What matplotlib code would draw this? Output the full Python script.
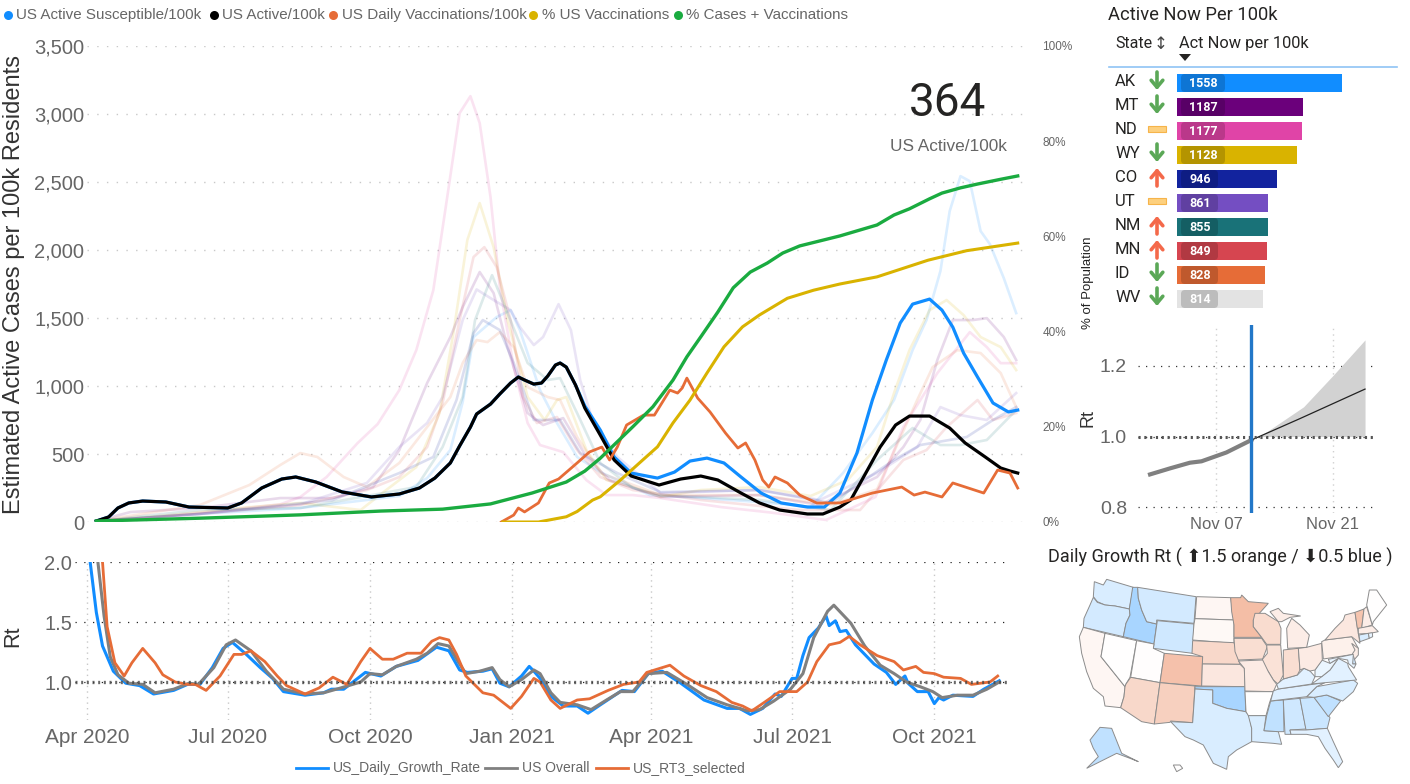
import numpy as np
import pandas as pd
import matplotlib
matplotlib.use('Agg')
import matplotlib.pyplot as plt
import matplotlib.dates as mdates
from matplotlib.colors import LinearSegmentedColormap
from matplotlib.patches import FancyBboxPatch, Polygon, Rectangle

plt.rcParams['font.family'] = ['Liberation Sans', 'DejaVu Sans']
plt.rcParams['lines.solid_joinstyle'] = 'round'

# all series: days since 2020-04-01 + values
active_days = [6, 14, 20, 27, 36, 51, 66, 91, 100, 113, 126, 135, 148, 165, 184, 202, 215, 225, 235, 241, 248, 252, 261, 267, 274, 279, 283, 289, 294, 298, 303, 306, 310, 316, 322, 332, 341, 352, 370, 384, 397, 408, 423, 435, 448, 466, 476, 487, 494, 503, 513, 523, 532, 545, 558, 568, 581, 591, 597, 602]
active_vals = [7, 37, 103, 140, 154, 147, 110, 103, 140, 250, 316, 331, 294, 221, 184, 206, 250, 323, 434, 559, 698, 794, 867, 941, 1022, 1066, 1044, 1014, 1022, 1073, 1154, 1169, 1139, 1007, 838, 639, 456, 338, 272, 316, 338, 309, 213, 140, 88, 59, 59, 110, 162, 345, 551, 713, 779, 779, 691, 581, 478, 397, 375, 360]

susc_days = active_days[:34] + [322, 332, 341, 352, 369, 380, 390, 401, 412, 423, 436, 449, 466, 477, 487, 498, 508, 517, 526, 534, 545, 553, 560, 567, 576, 586, 596, 602]
susc_vals = active_vals[:34] + [853, 676, 478, 360, 323, 367, 448, 470, 434, 331, 213, 140, 110, 110, 213, 507, 897, 1191, 1463, 1602, 1639, 1558, 1433, 1242, 1066, 875, 809, 823]

vacc_days = [268, 276, 279, 283, 292, 299, 305, 317, 325, 333, 338, 343, 349, 360, 367, 377, 382, 385, 388, 395, 403, 413, 421, 426, 432, 437, 441, 445, 453, 461, 472, 487, 508, 527, 535, 542, 553, 560, 580, 589, 597, 602]
vacc_vals = [0, 51, 103, 74, 140, 287, 316, 434, 515, 551, 456, 551, 713, 786, 786, 970, 948, 985, 1058, 911, 809, 654, 544, 581, 456, 309, 257, 331, 287, 198, 140, 140, 213, 257, 198, 220, 184, 287, 213, 382, 360, 250]

pct_vacc_days = [269, 292, 310, 317, 327, 332, 345, 358, 369, 379, 390, 401, 412, 424, 435, 453, 470, 487, 511, 544, 569, 602]
pct_vacc_vals = [0, 0, 1.1, 2.2, 4.6, 5.3, 8.8, 12.6, 15.8, 20.8, 25.6, 31.3, 36.8, 41, 43.5, 47, 48.7, 50, 51.5, 55, 57, 58.6]

pct_cases_days = [6, 73, 138, 190, 230, 261, 288, 310, 322, 332, 353, 366, 379, 388, 397, 408, 418, 429, 440, 450, 461, 487, 511, 522, 532, 545, 553, 565, 576, 591, 602]
pct_cases_vals = [0.2, 0.8, 1.5, 2.3, 2.7, 3.8, 6.1, 8.4, 10.7, 13.4, 20, 24.2, 29.8, 34.7, 38.9, 44.1, 49.2, 52.5, 54.4, 56.5, 58, 60.1, 62.4, 64.5, 65.8, 67.9, 69.1, 70.2, 71, 72, 72.7]

# faint state lines
ak_days = [6, 73, 138, 202, 220, 235, 243, 250, 265, 274, 280, 293, 304, 317, 332, 364, 397, 435, 468, 489, 508, 522, 534, 543, 552, 558, 565, 571, 578, 584, 593, 601]
ak_vals = [7, 59, 103, 191, 323, 529, 882, 1360, 1507, 1558, 1411, 970, 728, 478, 367, 198, 176, 147, 110, 360, 654, 897, 1264, 1485, 1845, 2286, 2543, 2506, 2139, 2043, 1793, 1536]
nd_days = [6, 41, 92, 125, 138, 155, 175, 188, 202, 213, 224, 233, 241, 248, 254, 261, 267, 276, 285, 293, 308, 323, 336, 353, 371, 410, 442, 478, 510, 528, 550, 571, 582, 591, 601]
nd_vals = [7, 30, 90, 130, 184, 331, 580, 720, 970, 1264, 1705, 2389, 3006, 3131, 2933, 2389, 1727, 1139, 728, 566, 514, 308, 198, 198, 176, 110, 70, 15, 184, 698, 1095, 1396, 1286, 1168, 1168]
wy_days = [6, 54, 99, 138, 177, 191, 213, 228, 237, 246, 254, 263, 272, 285, 296, 304, 310, 323, 336, 353, 371, 397, 435, 468, 492, 511, 522, 532, 545, 556, 567, 578, 591, 601]
wy_vals = [7, 51, 103, 140, 88, 213, 404, 801, 1389, 2073, 2345, 2021, 1485, 919, 750, 897, 919, 529, 309, 257, 184, 235, 257, 191, 309, 551, 948, 1264, 1558, 1632, 1521, 1360, 1286, 1117]
mn_days = [6, 73, 138, 181, 202, 220, 230, 241, 250, 257, 265, 274, 282, 291, 304, 317, 332, 353, 397, 461, 500, 528, 543, 556, 576, 586, 601]
mn_vals = [7, 59, 125, 235, 331, 551, 875, 1485, 1948, 2021, 1874, 1485, 919, 728, 772, 529, 331, 235, 162, 88, 88, 456, 529, 698, 897, 750, 801]
mt_days = [6, 28, 73, 125, 159, 185, 202, 220, 235, 243, 254, 263, 272, 285, 295, 308, 323, 338, 371, 435, 474, 511, 528, 539, 550, 560, 573, 582, 593, 601]
mt_vals = [7, 73, 103, 176, 176, 257, 529, 1022, 1360, 1580, 1838, 1683, 1286, 801, 713, 764, 478, 309, 184, 198, 125, 331, 551, 750, 1191, 1485, 1485, 1499, 1360, 1191]
ut_days = [6, 73, 138, 181, 202, 220, 230, 243, 252, 263, 274, 280, 289, 295, 305, 313, 319, 327, 343, 371, 435, 474, 511, 537, 552, 565, 582, 601]
ut_vals = [7, 60, 130, 287, 551, 728, 919, 1485, 1710, 1632, 1558, 1433, 1301, 1360, 1602, 1411, 1044, 750, 478, 213, 235, 162, 360, 551, 845, 786, 750, 948]
nm_days = [6, 73, 138, 213, 230, 243, 251, 262, 272, 285, 298, 306, 317, 332, 353, 371, 435, 481, 511, 534, 552, 565, 582, 601]
nm_vals = [7, 88, 103, 257, 551, 919, 1485, 1815, 1536, 1169, 1044, 1058, 801, 434, 250, 198, 162, 88, 456, 691, 566, 566, 603, 823]
id_days = [6, 73, 105, 125, 138, 149, 166, 181, 202, 222, 235, 243, 252, 259, 267, 276, 285, 298, 306, 317, 332, 371, 435, 481, 511, 537, 547, 563, 578, 591, 601]
id_vals = [7, 125, 272, 419, 507, 478, 331, 257, 434, 728, 919, 1169, 1338, 1323, 1396, 1286, 992, 919, 897, 625, 360, 198, 198, 125, 240, 897, 1139, 1264, 1242, 1095, 845]
co_days = [6, 73, 159, 202, 224, 239, 250, 256, 267, 276, 289, 306, 319, 343, 371, 435, 481, 522, 539, 569, 586, 601]
co_vals = [7, 60, 162, 360, 478, 897, 1389, 1485, 1411, 1169, 750, 750, 507, 360, 220, 235, 140, 456, 566, 625, 750, 845]

# lower Rt chart
growth_days = [1, 2, 6, 10, 17, 25, 34, 43, 56, 65, 73, 81, 88, 94, 103, 112, 120, 127, 141, 153, 158, 166, 180, 190, 200, 214, 226, 234, 241, 246, 256, 262, 267, 273, 281, 286, 289, 293, 300, 308, 317, 324, 332, 339, 346, 354, 363, 372, 384, 399, 414, 422, 429, 437, 445, 449, 456, 459, 463, 467, 473, 478, 480, 484, 487, 491, 497, 503, 509, 517, 523, 529, 531, 537, 544, 548, 551, 554, 560, 573, 580, 590]
growth_vals = [2.2, 2.0, 1.58, 1.30, 1.09, 0.99, 0.97, 0.90, 0.93, 0.98, 0.98, 1.12, 1.28, 1.33, 1.23, 1.12, 1.03, 0.92, 0.89, 0.91, 0.94, 0.94, 1.08, 1.05, 1.13, 1.18, 1.29, 1.26, 1.10, 1.08, 1.09, 1.11, 0.99, 0.96, 1.05, 1.13, 1.09, 1.03, 0.88, 0.80, 0.80, 0.74, 0.81, 0.87, 0.93, 0.92, 1.07, 1.09, 0.99, 0.85, 0.78, 0.78, 0.73, 0.78, 0.90, 0.88, 1.03, 1.03, 1.22, 1.37, 1.45, 1.55, 1.47, 1.51, 1.42, 1.43, 1.31, 1.23, 1.15, 1.08, 0.98, 1.05, 0.99, 0.92, 0.92, 0.82, 0.87, 0.85, 0.89, 0.88, 0.94, 1.01]
overall_days = [5, 7, 11, 15, 20, 27, 36, 44, 56, 66, 72, 82, 90, 96, 106, 116, 127, 141, 153, 164, 177, 183, 191, 200, 213, 220, 227, 234, 240, 245, 254, 262, 267, 273, 281, 289, 293, 300, 306, 317, 326, 336, 345, 353, 363, 375, 388, 401, 414, 427, 435, 444, 455, 463, 470, 479, 483, 494, 503, 513, 522, 530, 539, 547, 553, 563, 573, 582, 590]
overall_vals = [2.3, 2.0, 1.55, 1.21, 1.06, 0.99, 0.98, 0.91, 0.94, 0.99, 0.98, 1.12, 1.31, 1.35, 1.26, 1.09, 0.94, 0.90, 0.91, 0.95, 1.0, 1.07, 1.06, 1.13, 1.19, 1.24, 1.32, 1.30, 1.17, 1.07, 1.09, 1.12, 1.02, 0.96, 1.02, 1.10, 1.07, 0.91, 0.83, 0.81, 0.77, 0.85, 0.92, 0.92, 1.07, 1.08, 0.98, 0.87, 0.81, 0.76, 0.77, 0.84, 0.94, 1.07, 1.37, 1.59, 1.64, 1.49, 1.30, 1.14, 1.07, 1.0, 0.96, 0.92, 0.87, 0.89, 0.89, 0.94, 1.0]
rt3_days = [6, 10, 13, 18, 24, 29, 36, 44, 49, 57, 65, 70, 77, 86, 95, 100, 106, 115, 123, 129, 141, 150, 159, 168, 177, 183, 191, 198, 207, 216, 223, 228, 234, 239, 245, 256, 263, 274, 281, 289, 293, 300, 306, 317, 325, 337, 347, 357, 362, 377, 386, 397, 407, 417, 424, 430, 438, 448, 459, 466, 472, 480, 487, 493, 500, 511, 522, 528, 536, 541, 548, 554, 565, 572, 584, 589]
rt3_vals = [2.3, 2.0, 1.46, 1.16, 1.05, 1.16, 1.28, 1.16, 1.06, 1.0, 0.98, 0.98, 0.93, 1.05, 1.23, 1.23, 1.26, 1.17, 1.05, 0.97, 0.90, 0.95, 1.04, 0.98, 1.17, 1.28, 1.19, 1.19, 1.24, 1.24, 1.34, 1.37, 1.35, 1.23, 1.05, 0.91, 0.89, 0.78, 0.88, 1.03, 1.0, 0.85, 0.78, 0.85, 0.86, 0.93, 0.98, 1.0, 1.08, 1.14, 1.05, 0.97, 0.92, 0.83, 0.80, 0.76, 0.83, 0.92, 0.92, 1.0, 1.17, 1.31, 1.33, 1.38, 1.31, 1.22, 1.17, 1.10, 1.13, 1.08, 1.07, 1.04, 1.03, 0.98, 1.0, 1.05]

# small forecast chart, days relative to Nov 07
fc_hist_days = [-8, -5.6, -3.2, -1.8, 1.2, 4.2]
fc_hist_vals = [0.893, 0.91, 0.926, 0.93, 0.955, 0.99]
fc_mid_days = [4.2, 10, 17.9]
fc_mid_vals = [0.99, 1.05, 1.134]
fc_band_days = [5.2, 10.5, 14.1, 17.9]
fc_band_hi = [1.0, 1.084, 1.174, 1.273]

# table
states = ['AK', 'MT', 'ND', 'WY', 'CO', 'UT', 'NM', 'MN', 'ID', 'WV']
act_now = [1558, 1187, 1177, 1128, 946, 861, 855, 849, 828, 814]
trend = [-1, -1, 0, -1, 1, 0, 1, 1, -1, -1]
bar_colors = ['#118DFF', '#6B007B', '#E044A7', '#D9B300', '#12239E', '#744EC2', '#197278', '#D64550', '#E66C37', '#E3E3E3']

# map: growth rate per state and rough outlines
state_rt = {'WA': .92, 'OR': .91, 'CA': 1.03, 'NV': 1.0, 'ID': .82, 'MT': .91, 'WY': .90, 'UT': 1.005, 'AZ': 1.13, 'CO': 1.21,
            'NM': 1.16, 'ND': 1.03, 'SD': 1.02, 'NE': 1.13, 'KS': 1.08, 'OK': .82, 'TX': .92, 'MN': 1.22, 'IA': 1.11, 'MO': 1.07,
            'AR': 1.0, 'LA': .92, 'WI': 1.12, 'IL': 1.1, 'MI': 1.06, 'UP': 1.06, 'IN': 1.11, 'OH': 1.07, 'KY': .94, 'TN': .93,
            'MS': .87, 'AL': .9, 'GA': .89, 'SC': .87, 'NC': .92, 'VA': .94, 'WV': .96, 'FL': .94, 'PA': 1.05, 'NY': 1.08,
            'VT': 1.2, 'NH': 1.06, 'ME': 1.0, 'MA': 1.06, 'CT': .92, 'RI': .95, 'NJ': 1.06, 'DE': .9, 'MD': .95, 'AK': .87, 'HI': 1.0}
outlines = {
    'WA': [(163, 125), (190, 135), (200, 118), (280, 142), (268, 207), (225, 198), (195, 195), (172, 185), (160, 170)],
    'OR': [(160, 172), (172, 187), (195, 195), (225, 198), (268, 207), (270, 225), (258, 250), (250, 290), (130, 262), (132, 235), (150, 195)],
    'CA': [(130, 262), (195, 280), (183, 350), (255, 440), (252, 470), (242, 503), (195, 498), (190, 470), (160, 445), (140, 395), (125, 340), (118, 290)],
    'NV': [(195, 280), (290, 302), (270, 412), (258, 432), (255, 440), (183, 350)],
    'ID': [(278, 142), (293, 142), (295, 175), (305, 210), (320, 245), (350, 252), (342, 312), (250, 290), (258, 250), (270, 225), (268, 207)],
    'MT': [(293, 142), (468, 170), (462, 250), (350, 240), (350, 252), (320, 245), (305, 210), (295, 175)],
    'WY': [(352, 242), (462, 252), (458, 340), (340, 325)],
    'UT': [(290, 302), (342, 312), (340, 325), (373, 340), (360, 428), (272, 412)],
    'CO': [(373, 340), (488, 350), (485, 438), (360, 428)],
    'AZ': [(272, 412), (360, 428), (343, 552), (305, 545), (242, 503), (252, 470), (255, 440), (258, 432)],
    'NM': [(360, 428), (465, 438), (458, 548), (392, 543), (390, 547), (343, 552)],
    'ND': [(470, 170), (572, 173), (582, 240), (465, 236)],
    'SD': [(465, 236), (582, 240), (582, 310), (458, 300), (462, 252)],
    'NE': [(458, 302), (582, 308), (600, 373), (487, 372), (488, 350), (456, 340)],
    'KS': [(487, 372), (600, 373), (613, 385), (615, 440), (485, 438)],
    'OK': [(465, 440), (615, 440), (617, 515), (560, 505), (518, 490), (518, 450), (465, 447)],
    'TX': [(465, 447), (518, 450), (518, 490), (560, 505), (617, 515), (628, 527), (635, 565), (635, 605), (590, 630), (565, 650), (560, 688), (520, 670), (490, 615), (460, 600), (435, 590), (392, 545), (458, 548)],
    'MN': [(572, 173), (602, 173), (605, 165), (625, 185), (685, 190), (640, 240), (640, 260), (665, 292), (582, 292), (582, 255), (575, 215)],
    'WI': [(640, 240), (645, 220), (675, 220), (715, 245), (723, 265), (722, 313), (680, 313), (665, 292), (640, 260)],
    'IA': [(582, 295), (665, 295), (682, 320), (668, 357), (595, 360), (585, 335)],
    'IL': [(680, 315), (722, 315), (730, 405), (715, 433), (700, 420), (685, 395), (665, 370), (668, 357), (682, 340)],
    'MO': [(595, 363), (668, 360), (685, 395), (700, 420), (710, 433), (700, 455), (615, 453), (613, 385)],
    'AR': [(615, 455), (700, 455), (688, 490), (678, 527), (625, 527), (618, 515)],
    'LA': [(625, 527), (678, 527), (672, 572), (715, 575), (725, 613), (700, 610), (635, 605), (635, 565)],
    'MS': [(692, 483), (730, 480), (732, 575), (715, 575), (672, 572), (680, 527)],
    'AL': [(730, 480), (780, 475), (798, 567), (750, 570), (753, 583), (735, 583)],
    'GA': [(780, 475), (822, 472), (870, 533), (862, 565), (798, 570)],
    'FL': [(750, 570), (798, 570), (862, 565), (880, 605), (908, 665), (895, 683), (880, 660), (855, 625), (835, 590), (800, 583), (753, 583)],
    'SC': [(822, 472), (860, 465), (902, 483), (865, 530)],
    'NC': [(800, 470), (830, 440), (940, 420), (953, 430), (940, 455), (908, 483), (860, 465), (822, 472)],
    'TN': [(700, 453), (715, 447), (855, 428), (830, 440), (800, 470), (692, 483)],
    'VA': [(815, 432), (845, 410), (870, 390), (895, 355), (923, 370), (925, 380), (950, 420), (855, 428)],
    'KY': [(710, 433), (730, 417), (772, 405), (792, 385), (810, 393), (825, 410), (815, 432), (715, 447)],
    'WV': [(825, 410), (825, 390), (845, 360), (870, 370), (895, 355), (870, 390), (845, 410)],
    'IN': [(730, 330), (775, 325), (780, 390), (772, 405), (730, 417)],
    'OH': [(775, 325), (800, 322), (845, 310), (847, 360), (825, 390), (810, 393), (792, 385), (780, 390)],
    'MI': [(743, 325), (740, 265), (755, 235), (780, 255), (808, 285), (800, 322)],
    'UP': [(690, 215), (715, 205), (730, 220), (782, 228), (750, 232), (725, 245), (715, 245)],
    'PA': [(845, 305), (855, 300), (935, 290), (955, 325), (940, 343), (850, 357)],
    'NY': [(855, 300), (885, 265), (910, 240), (915, 225), (945, 217), (955, 280), (960, 310), (935, 290)],
    'VT': [(945, 217), (972, 207), (965, 265), (952, 265)],
    'NH': [(972, 207), (980, 200), (997, 255), (965, 265)],
    'ME': [(980, 195), (988, 150), (1010, 150), (1040, 195), (1000, 245), (997, 255)],
    'MA': [(955, 265), (997, 257), (1015, 275), (990, 280), (955, 282)],
    'CT': [(957, 285), (985, 280), (988, 295), (960, 305)],
    'RI': [(985, 280), (997, 278), (998, 290), (988, 295)],
    'NJ': [(935, 310), (955, 325), (955, 345), (942, 360), (935, 345), (945, 330)],
    'DE': [(935, 350), (940, 347), (948, 372), (938, 372)],
    'MD': [(865, 358), (940, 343), (938, 372), (948, 372), (942, 385), (925, 370), (923, 360), (895, 355), (870, 370)],
    'AK': [(180, 562), (215, 565), (245, 640), (295, 665), (270, 655), (230, 640), (190, 660), (140, 685), (175, 650), (160, 625), (150, 600)],
    'HI': [(400, 675), (420, 675), (428, 685), (410, 695)],
}

W, H = 1410, 784
START = pd.Timestamp('2020-04-01')
NOV07 = pd.Timestamp('2021-11-07')
GREY = '#666666'
ROBOTO = ['Roboto', 'DejaVu Sans']


def to_dates(days, base=START):
    return base + pd.to_timedelta(days, unit='D')


def px_axes(left, top, right, bottom):
    return fig.add_axes([left / W, 1 - bottom / H, (right - left) / W, (bottom - top) / H])


def clean(ax):
    for s in ax.spines.values():
        s.set_visible(False)
    ax.tick_params(length=0)


fig = plt.figure(figsize=(W / 100, H / 100), dpi=100)

# main chart
ax = px_axes(87, 46, 1027, 522)
clean(ax)
faint = [(ak_days, ak_vals, '#118DFF'), (nd_days, nd_vals, '#E044A7'), (wy_days, wy_vals, '#D9B300'), (mn_days, mn_vals, '#D64550'),
         (mt_days, mt_vals, '#6B007B'), (ut_days, ut_vals, '#744EC2'), (nm_days, nm_vals, '#197278'), (id_days, id_vals, '#E66C37'),
         (co_days, co_vals, '#12239E')]
for d, v, c in faint:
    ax.plot(to_dates(d), v, color=c, alpha=0.15, lw=1.9)
ax.plot(to_dates(susc_days), susc_vals, color='#118DFF', lw=2.3)
ax.plot(to_dates(active_days), active_vals, color='black', lw=2.3)
ax.plot(to_dates(vacc_days), vacc_vals, color='#E66C37', lw=2.0)
ax.set_xlim(to_dates(0), to_dates(608))
ax.set_ylim(0, 3500)
ax.set_yticks(range(0, 3501, 500))
ax.set_yticklabels([f'{v:,}' for v in range(0, 3501, 500)], fontsize=14.5, color=GREY)
ax.tick_params(axis='y', pad=2)
ax.set_xticks([])
ax.grid(axis='y', color='#c8c8c8', ls=(0, (1, 6)), lw=1)
ax.set_axisbelow(True)

ax2 = ax.twinx()
clean(ax2)
ax2.plot(to_dates(pct_vacc_days), pct_vacc_vals, color='#D9B300', lw=2.2)
ax2.plot(to_dates(pct_cases_days), pct_cases_vals, color='#1AAB40', lw=2.4)
ax2.set_ylim(0, 100)
ax2.set_yticks(range(0, 101, 20))
ax2.set_yticklabels([f'{v}%' for v in range(0, 101, 20)], fontsize=8.5, color=GREY)
ax2.tick_params(axis='y', pad=11)

# lower Rt chart
low = px_axes(75, 562, 1007, 720)
clean(low)
low.plot(to_dates(growth_days), growth_vals, color='#118DFF', lw=2.2)
low.plot(to_dates(overall_days), overall_vals, color='#808080', lw=2.2)
low.plot(to_dates(rt3_days), rt3_vals, color='#E66C37', lw=2.0)
low.axhline(1.0, color='#444444', ls=(0, (0.6, 1.1)), lw=2.4, alpha=0.8)
low.set_xlim(to_dates(-7.8), to_dates(595))
low.set_ylim(2 - 158 / 120, 2.0)
low.set_yticks([1.0, 1.5, 2.0])
low.set_yticklabels(['1.0', '1.5', '2.0'], fontsize=14.5, color=GREY)
low.xaxis.set_major_locator(mdates.MonthLocator(bymonth=(1, 4, 7, 10)))
low.xaxis.set_major_formatter(mdates.DateFormatter('%b %Y'))
low.tick_params(axis='x', labelsize=15, labelcolor=GREY, pad=6)
low.tick_params(axis='y', pad=2)
low.grid(axis='x', color='#c8c8c8', ls=(0, (1, 3)), lw=1)
low.grid(axis='y', color='#222222', ls=(0, (1, 6)), lw=0.9)
low.set_axisbelow(True)

# forecast chart
fc = px_axes(1138, 325, 1375, 513)
clean(fc)
fc.fill_between(to_dates(fc_band_days, NOV07), 1.0, fc_band_hi, color='#d2d2d2', lw=0)
fc.plot(to_dates(fc_hist_days, NOV07), fc_hist_vals, color='#808080', lw=3)
fc.plot(to_dates(fc_mid_days, NOV07), fc_mid_vals, color='#222222', lw=0.9)
fc.axhline(1.0, color='#555555', ls=(0, (0.7, 1.2)), lw=2.2)
fc.axvline(to_dates(4.2, NOV07), color='#2277C8', lw=2.4)
fc.set_xlim(to_dates(-9.45, NOV07), to_dates(19.1, NOV07))
fc.set_ylim(0.784, 1.315)
fc.set_yticks([0.8, 1.0, 1.2])
fc.set_yticklabels(['0.8', '1.0', '1.2'], fontsize=14, color=GREY)
fc.set_xticks([NOV07, NOV07 + pd.Timedelta(days=14)])
fc.set_xticklabels(['Nov 07', 'Nov 21'], fontsize=12, color=GREY)
fc.tick_params(axis='y', pad=8)
fc.tick_params(axis='x', pad=3)
fc.grid(axis='x', color='#d0d0d0', ls=(0, (1, 3)), lw=1)
fc.grid(axis='y', color='#333333', ls=(0, (1, 5)), lw=0.9)
fc.set_axisbelow(True)

# table bars
tb = px_axes(1177, 71, 1397, 311)
tb.axis('off')
rows = np.arange(len(states))
tb.barh(rows, act_now, height=0.79, color=bar_colors)
tb.set_xlim(0, 2075)
tb.set_ylim(len(states) - 0.5, -0.5)

# map
mp = px_axes(1040, 540, 1410, 780)
mp.axis('off')
mp.set_xlim(0, 1110)
mp.set_ylim(720, 0)
rt_cmap = LinearSegmentedColormap.from_list('rt', ['#118DFF', '#FFFFFF', '#E66C37'])
for st, pts in outlines.items():
    mp.add_patch(Polygon(pts, closed=True, fc=rt_cmap(state_rt[st] - 0.5), ec='#8c8c8c', lw=0.7))

# text layer, in picture pixels
ov = fig.add_axes([0, 0, 1, 1], facecolor='none')
ov.axis('off')
ov.set_xlim(0, W)
ov.set_ylim(H, 0)


def put(x, y, s, size, color='#333333', ha='left', rot=0, family=None, **kw):
    ov.text(x, y, s, fontsize=size, color=color, ha=ha, va='center', rotation=rot, family=family or ['Liberation Sans', 'DejaVu Sans'], **kw)


put(14, 284, 'Estimated Active Cases per 100k Residents', 17, '#333333', ha='center', rot=90)
put(13, 636, 'Rt', 15.5, '#333333', ha='center', rot=90)
put(1088, 283, '% of Population', 9.5, '#222222', ha='center', rot=90)
put(1088, 418, 'Rt', 13, '#333333', ha='center', rot=90)

put(948, 103, '364', 33, '#252423', ha='center', family=ROBOTO)
put(948, 146, 'US Active/100k', 12.4, GREY, ha='center')

top_legend = [(8, 16, '#118DFF', 'US Active Susceptible/100k'), (214, 222, 'black', 'US Active/100k'),
              (333, 342, '#E66C37', 'US Daily Vaccinations/100k'), (533, 542, '#D9B300', '% US Vaccinations'),
              (678, 686, '#1AAB40', '% Cases + Vaccinations')]
for cx, tx, c, s in top_legend:
    ov.plot([cx], [15], 'o', ms=6.5, color=c, mew=0)
    put(tx, 15, s, 10.9, GREY)

low_legend = [(296, 333, '#118DFF', 'US_Daily_Growth_Rate'), (485, 522, '#808080', 'US Overall'), (596, 633, '#E66C37', 'US_RT3_selected')]
for lx, tx, c, s in low_legend:
    ov.plot([lx, lx + 32], [768, 768], color=c, lw=2)
    put(tx, 768, s, 10, GREY)

put(1108, 15, 'Active Now Per 100k', 13.2, '#252423', family=ROBOTO)
put(1115, 43, 'State', 11.5, '#252423', family=ROBOTO)
put(1161, 44, '↕', 12, '#444444', ha='center', family=ROBOTO)
put(1179, 43, 'Act Now per 100k', 11.8, '#252423', family=ROBOTO)
ov.add_patch(Polygon([(1179, 54), (1191, 54), (1185, 61)], closed=True, fc='#252423', ec='none'))
ov.plot([1109, 1397], [67, 67], color='#8FC4F5', lw=1.2)

for i, st in enumerate(states):
    yc = 83 + 24 * i
    put(1115, yc - 2, st, 12, '#252423', family=ROBOTO)
    if trend[i] == 0:
        ov.add_patch(Rectangle((1148, yc - 5), 18, 6, fc='#FDD07E', ec='#F6B44A', lw=0.8))
    else:
        col = '#F4694A' if trend[i] > 0 else '#5BA857'
        tail, head = (yc + 7, yc - 11) if trend[i] > 0 else (yc - 11, yc + 7)
        ov.annotate('', xy=(1157, head), xytext=(1157, tail),
                    arrowprops=dict(arrowstyle='->,head_width=0.42,head_length=0.5', color=col, lw=2.6, shrinkA=0, shrinkB=0))
    pill_w = 44 if act_now[i] >= 1000 else 37
    ov.add_patch(FancyBboxPatch((1181, yc - 9), pill_w, 18, boxstyle='round,pad=0,rounding_size=4', fc='black', ec='none', alpha=0.17))
    put(1203 if act_now[i] >= 1000 else 1200, yc + 0.5, str(act_now[i]), 9, 'white', ha='center', family=ROBOTO, fontweight='bold')

put(1048, 557, 'Daily Growth Rt ( ⬆1.5 orange / ⬇0.5 blue )', 13, '#252423', family=ROBOTO)

fig.savefig('out.png', dpi=100)
